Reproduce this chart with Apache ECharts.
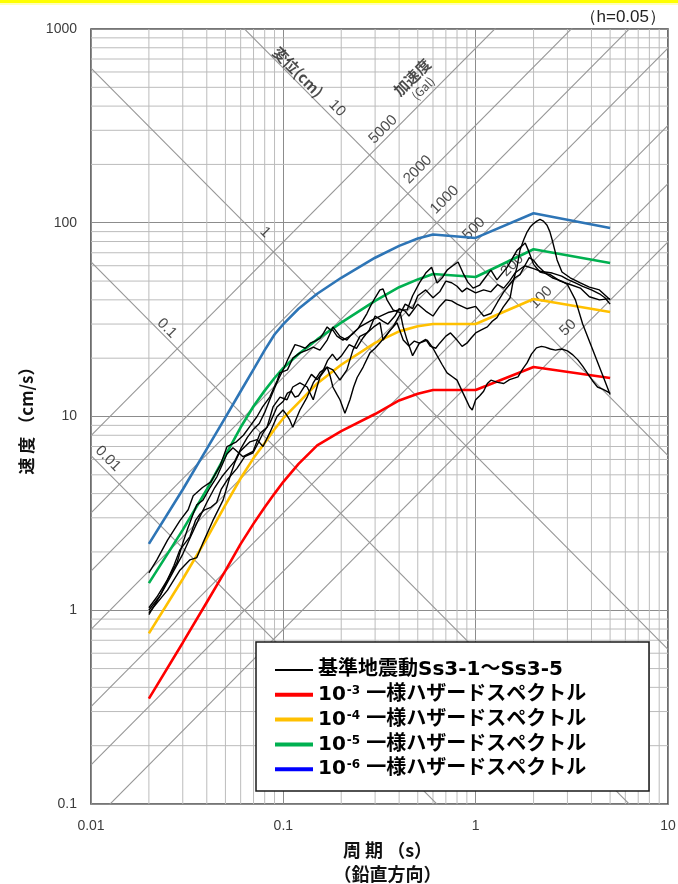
<!DOCTYPE html>
<html>
<head>
<meta charset="utf-8">
<script src="https://cdn.jsdelivr.net/npm/echarts@6/dist/echarts.min.js"></script>
<style>
html, body { margin: 0; padding: 0; background: #fff; overflow: hidden; }
#chart { width: 678px; height: 884px; }
</style>
</head>
<body>
<div id="chart"></div>
<script>
// ---- axis ranges and tick values -------------------------------------
const periodTicks = [0.01, 0.1, 1, 10];          // 周期 (s)
const velocityTicks = [0.1, 1, 10, 100, 1000];   // 速度 (cm/s)

// tripartite guide lines
const accelLines = [50, 100, 200, 500, 1000, 2000, 5000];  // 加速度 (Gal)
const dispLines = [0.01, 0.1, 1, 10];                       // 変位 (cm)

// ---- uniform hazard spectra ------------------------------------------
const hazardPeriods = [0.02, 0.03, 0.04, 0.05, 0.06, 0.07, 0.08, 0.09, 0.1, 0.12, 0.15, 0.2, 0.3, 0.4, 0.5, 0.6, 1.0, 2.0, 5.0];
const hazard1e3 = [0.35, 0.68, 1.1, 1.6, 2.2, 2.8, 3.4, 4.0, 4.6, 5.7, 7.1, 8.4, 10.3, 12.1, 13.1, 13.7, 13.7, 18.0, 15.8];
const hazard1e4 = [0.76, 1.45, 2.35, 3.5, 4.8, 6.1, 7.3, 8.6, 9.8, 11.8, 14.8, 18.5, 24.0, 27.5, 29.2, 30.0, 30.0, 40.4, 34.6];
const hazard1e5 = [1.38, 2.6, 4.2, 6.3, 8.8, 11.3, 13.6, 15.8, 17.8, 21.0, 25.0, 30.5, 39.5, 46.5, 51.0, 54.4, 52.5, 73.0, 62.0];
const hazard1e6 = [2.2, 4.2, 6.8, 9.9, 13.5, 17.5, 22.0, 26.5, 30.0, 36.0, 43.0, 52.0, 66.0, 76.0, 83.0, 87.0, 83.5, 112.0, 94.0];

// ---- design basis ground motions Ss3-1 .. Ss3-5, [period s, velocity cm/s]
const ss3_1 = [[0.02,1.56],[0.022,1.82],[0.025,2.3],[0.029,2.9],[0.032,3.3],[0.034,3.9],[0.038,4.3],[0.042,4.6],[0.047,5.6],[0.051,7.0],[0.057,7.4],[0.062,8.0],[0.067,8.9],[0.073,10],[0.078,11.2],[0.085,12.6],[0.093,15.4],[0.096,16.8],[0.105,17.4],[0.112,20],[0.122,21.3],[0.133,22],[0.143,22.8],[0.155,22],[0.169,24.8],[0.181,29],[0.197,25.9],[0.214,24.8],[0.23,27],[0.25,29],[0.29,31.5],[0.35,34.4],[0.4,35.5],[0.44,35.5],[0.47,42],[0.51,48.9],[0.55,55],[0.59,59],[0.63,48.9],[0.67,52],[0.71,57],[0.76,60],[0.81,62.7],[0.86,55],[0.91,49.4],[0.97,46],[1.05,47.7],[1.12,52],[1.2,57],[1.29,50.7],[1.46,59],[1.64,72],[1.81,78.6],[1.88,72],[2.0,61],[2.16,55.7],[2.44,54],[2.75,50],[3.1,48],[3.5,46],[3.9,41.5],[4.4,40],[5.0,40.6]];
const ss3_2 = [[0.02,0.97],[0.025,1.27],[0.029,1.61],[0.0327,1.82],[0.0355,1.87],[0.038,2.2],[0.043,2.9],[0.0486,3.7],[0.0528,4.9],[0.056,5.8],[0.0595,6.6],[0.0671,7.4],[0.073,7.6],[0.0784,7.0],[0.0853,8.3],[0.0927,10],[0.0996,10.8],[0.104,10.2],[0.108,9.6],[0.112,8.8],[0.117,9.8],[0.122,10.8],[0.133,12.6],[0.143,14.9],[0.155,16.9],[0.169,18],[0.175,16.2],[0.181,14.2],[0.19,13],[0.197,12.2],[0.209,10.4],[0.215,11.2],[0.222,12.2],[0.232,14.2],[0.242,15.9],[0.26,18],[0.282,21.3],[0.3,22.5],[0.318,24],[0.345,26.5],[0.372,29],[0.4,33],[0.43,38],[0.47,36],[0.5,42],[0.55,45],[0.6,41],[0.65,44],[0.7,50],[0.75,49],[0.8,47],[0.85,44],[0.9,46],[1.0,43.5],[1.1,45],[1.2,44],[1.3,48],[1.4,46],[1.5,50],[1.6,55],[1.8,60],[2.0,58],[2.2,56],[2.5,55],[2.8,53],[3.0,51],[3.3,49],[3.6,47],[4.0,45],[4.4,43],[4.7,41],[5.0,38]];
const ss3_3 = [[0.02,1.03],[0.022,1.17],[0.025,1.44],[0.028,1.76],[0.03,2.22],[0.032,2.68],[0.034,3.15],[0.0355,3.5],[0.0382,3.7],[0.0416,4.3],[0.0452,4.9],[0.0509,6.4],[0.0547,6.9],[0.0585,6.5],[0.0617,6.2],[0.0696,6.6],[0.0757,8.2],[0.0823,8.8],[0.0884,11.2],[0.0961,12.6],[0.1045,12.2],[0.112,14.2],[0.122,14.9],[0.133,14.2],[0.143,12.2],[0.155,16],[0.169,18],[0.181,17.4],[0.197,15.4],[0.214,17.4],[0.23,22],[0.25,25.9],[0.272,27],[0.295,29],[0.318,30.5],[0.33,24.8],[0.36,28],[0.39,30.5],[0.42,24.8],[0.45,23.1],[0.48,24.5],[0.51,23.9],[0.55,25],[0.58,23.1],[0.62,22.5],[0.65,23.9],[0.7,26],[0.74,27],[0.8,24.8],[0.85,23],[0.9,23.9],[0.95,25.5],[1.0,27],[1.07,28],[1.15,29],[1.22,31],[1.29,32.4],[1.39,36.7],[1.51,41],[1.56,48.9],[1.64,59],[1.7,72.3],[1.78,82],[1.85,89.5],[1.92,95],[2.0,99],[2.08,102],[2.16,104],[2.25,102],[2.35,97],[2.43,90],[2.5,81.5],[2.58,72],[2.65,64.3],[2.81,55.7],[3.1,52],[3.5,48.9],[3.9,46.5],[4.4,45],[5.0,40]];
const ss3_4 = [[0.02,1.0],[0.023,1.2],[0.026,1.5],[0.03,1.95],[0.033,2.4],[0.036,2.9],[0.04,3.6],[0.044,4.3],[0.048,4.9],[0.052,5.4],[0.056,5.9],[0.06,6.8],[0.065,7.8],[0.07,8.6],[0.075,9.2],[0.08,10.5],[0.085,12.2],[0.09,14],[0.095,15.8],[0.1,17.5],[0.105,19.5],[0.11,21.5],[0.115,23.5],[0.122,23.1],[0.13,22.5],[0.138,23.9],[0.146,24.5],[0.155,25.3],[0.162,27],[0.169,29],[0.175,28],[0.181,27.9],[0.19,26],[0.204,24.8],[0.215,25.5],[0.23,26.7],[0.245,28.5],[0.26,31.5],[0.272,34],[0.282,36.7],[0.3,41],[0.318,45],[0.33,45.5],[0.346,40],[0.372,35.5],[0.405,34.4],[0.42,29],[0.44,24.8],[0.47,20.6],[0.51,23.9],[0.56,24.8],[0.6,22.5],[0.63,20.6],[0.67,18.5],[0.71,16.8],[0.76,16],[0.8,15.4],[0.86,13.2],[0.9,12],[0.93,11.2],[0.96,10.8],[1.0,12.2],[1.05,12.8],[1.1,13.5],[1.15,14.8],[1.2,15.4],[1.3,15],[1.4,14.8],[1.5,15.5],[1.66,16],[1.75,17.5],[1.85,18.9],[1.95,21],[2.07,22.6],[2.2,23],[2.3,22.8],[2.45,22.3],[2.6,22],[2.8,22.3],[3.0,21.8],[3.2,20.8],[3.4,19.6],[3.6,18.2],[3.8,16.8],[4.05,15.3],[4.3,14.2],[4.6,13.8],[5.0,13.2]];
const ss3_5 = [[0.02,0.95],[0.023,1.2],[0.027,1.7],[0.029,2.05],[0.0327,2.4],[0.035,2.92],[0.037,3.15],[0.039,3.3],[0.042,3.4],[0.045,3.6],[0.0475,4.2],[0.051,4.7],[0.0574,5.4],[0.063,6.2],[0.0696,6.5],[0.074,7.3],[0.0784,8.2],[0.0853,9.3],[0.0927,11.2],[0.1,12],[0.105,13.2],[0.11,13.5],[0.115,12.6],[0.12,12.8],[0.13,14.5],[0.14,16.5],[0.15,15.5],[0.16,17],[0.17,19.5],[0.18,21],[0.19,19.5],[0.2,20.5],[0.22,23.5],[0.24,22.5],[0.26,25.5],[0.28,28],[0.3,33],[0.33,31],[0.35,30],[0.38,33],[0.4,36],[0.43,35],[0.45,33],[0.5,38],[0.55,35],[0.6,33],[0.65,37],[0.7,40],[0.75,39.5],[0.8,38],[0.9,36],[1.0,37],[1.1,33],[1.2,34],[1.3,39],[1.4,44],[1.5,48],[1.6,52],[1.7,54],[1.8,60],[1.9,66],[2.0,64],[2.1,60],[2.3,55],[2.5,52],[2.8,50],[3.0,48],[3.3,40],[3.6,30],[4.0,23],[4.5,17],[5.0,13]];

const groundMotions = [ss3_1, ss3_2, ss3_3, ss3_4, ss3_5];
const groundMotionName = '基準地震動Ss3-1～Ss3-5';
const hazardNames = ['10-3 一様ハザードスペクトル', '10-4 一様ハザードスペクトル', '10-5 一様ハザードスペクトル', '10-6 一様ハザードスペクトル'];
const hazardValues = [hazard1e3, hazard1e4, hazard1e5, hazard1e6];

// ---- styling --------------------------------------------------------
const hazardColors = ['#ff0000', '#ffc000', '#00b050', '#2e75b6'];
const hazardLegendColors = ['#ff0000', '#ffc000', '#00b050', '#0000ff'];
const minorGridColor = '#bcbcbc';
const majorGridColor = '#8c8c8c';
const guideColor = '#969696';

// where the guide-line captions sit: period on the line, upward pixel shift
const accelLabelLayout = { 50: [3.02, 15], 100: [2.19, 14], 200: [1.55, 17], 500: [0.98, 15], 1000: [0.69, 15], 2000: [0.50, 14], 5000: [0.33, 12] };
const dispLabelLayout = { 0.01: [0.01226, 14], 0.1: [0.0248, 10], 1: [0.0803, 11], 10: [0.1905, 14] };

const TWO_PI = 2 * Math.PI;
const velFromAccel = (gal, t) => gal * t / TWO_PI;
const velFromDisp = (cm, t) => TWO_PI * cm / t;

// label offsets are given in the rotated text frame: turn a screen-space
// upward shift into that frame (+45 deg text for accel, -45 deg for disp)
const S = Math.SQRT1_2;
const accelOffset = up => [up * S, -up * S];
const dispOffset = up => [-up * S, -up * S];

const xMin = periodTicks[0], xMax = periodTicks[periodTicks.length - 1];
const yMin = velocityTicks[0], yMax = velocityTicks[velocityTicks.length - 1];

const series = [];

// minor log grid (2..9 within each decade)
function minorValues(ticks) {
  const out = [];
  for (let i = 0; i < ticks.length - 1; i++) {
    for (let k = 2; k <= 9; k++) out.push(+(ticks[i] * k).toPrecision(6));
  }
  return out;
}
const guideBase = { type: 'line', silent: true, symbol: 'none', animation: false, z: 1, tooltip: { show: false } };
minorValues(periodTicks).forEach(t => {
  series.push(Object.assign({}, guideBase, { data: [[t, yMin], [t, yMax]], lineStyle: { color: minorGridColor, width: 1 } }));
});
minorValues(velocityTicks).forEach(v => {
  series.push(Object.assign({}, guideBase, { data: [[xMin, v], [xMax, v]], lineStyle: { color: minorGridColor, width: 1 } }));
});

// acceleration and displacement guide lines
accelLines.forEach(a => {
  series.push(Object.assign({}, guideBase, { z: 2, data: [[xMin, velFromAccel(a, xMin)], [xMax, velFromAccel(a, xMax)]], lineStyle: { color: guideColor, width: 1.1 } }));
});
dispLines.forEach(d => {
  series.push(Object.assign({}, guideBase, { z: 2, data: [[xMin, velFromDisp(d, xMin)], [xMax, velFromDisp(d, xMax)]], lineStyle: { color: guideColor, width: 1.1 } }));
});

// captions along the guide lines
const numFont = { fontFamily: 'Liberation Sans', fontSize: 15, color: '#1e1e1e' };
const captionData = [];
accelLines.forEach(a => {
  const [t, up] = accelLabelLayout[a];
  captionData.push({ value: [t, velFromAccel(a, t)], label: Object.assign({ formatter: String(a), rotate: 45, offset: accelOffset(up) }, numFont) });
});
dispLines.forEach(d => {
  const [t, up] = dispLabelLayout[d];
  captionData.push({ value: [t, velFromDisp(d, t)], label: Object.assign({ formatter: String(d), rotate: -45, offset: dispOffset(up) }, numFont) });
});
captionData.push({ value: [0.1192, velFromDisp(10, 0.1192)], label: { formatter: '変位(cm)', rotate: -45, offset: dispOffset(11), fontFamily: 'Noto Sans CJK JP', fontWeight: 'bold', fontSize: 15, color: '#1e1e1e' } });
captionData.push({ value: [0.4957, velFromAccel(5000, 0.4957)], label: { formatter: '{a|加速度}\n{b|(Gal)}', rotate: 45, offset: accelOffset(25), rich: { a: { fontFamily: 'Noto Sans CJK JP', fontWeight: 'bold', fontSize: 15, color: '#1e1e1e', lineHeight: 17 }, b: { fontFamily: 'Noto Sans CJK JP', fontSize: 12, color: '#1e1e1e', lineHeight: 14 } } } });
series.push({
  type: 'scatter', silent: true, animation: false, z: 3, symbolSize: 1,
  itemStyle: { color: 'rgba(0,0,0,0)' },
  label: { show: true, position: 'inside' },
  data: captionData
});

// uniform hazard spectra
hazardValues.forEach((vals, i) => {
  series.push({
    type: 'line', name: hazardNames[i], symbol: 'none', animation: false, z: 4,
    lineStyle: { color: hazardColors[i], width: 2.6 },
    itemStyle: { color: hazardColors[i] },
    data: hazardPeriods.map((t, j) => [t, vals[j]])
  });
});

// ground motion spectra
groundMotions.forEach(curve => {
  series.push({
    type: 'line', name: groundMotionName, symbol: 'none', animation: false, z: 5,
    lineStyle: { color: '#000', width: 1.4 },
    itemStyle: { color: '#000' },
    data: curve
  });
});

const tickLabel = v => String(+(+v).toPrecision(6));
const titleFont = { fontFamily: 'Noto Sans CJK JP', fontWeight: 'bold', fontSize: 18, color: '#111' };

const legendFont = "'DejaVu Sans', 'Noto Sans CJK JP', sans-serif";

const option = {
  backgroundColor: '#fff',
  animation: false,
  grid: {
    left: 91, top: 29, width: 577, height: 775,
    show: true, borderColor: '#4a4a4a', borderWidth: 1.6, backgroundColor: 'transparent',
    containLabel: false, outerBoundsMode: 'none'
  },
  xAxis: {
    type: 'log', logBase: 10, min: xMin, max: xMax,
    axisLine: { show: false }, axisTick: { show: false },
    axisLabel: { margin: 15, fontSize: 14, color: '#3c3c3c', fontFamily: 'Liberation Sans', formatter: tickLabel, showMinLabel: true, showMaxLabel: true },
    splitLine: { show: true, lineStyle: { color: majorGridColor, width: 1 } },
    name: '周 期 （s）\n（鉛直方向）', nameLocation: 'middle', nameGap: 34,
    nameTextStyle: Object.assign({ lineHeight: 24, padding: [0, 0, 0, 16] }, titleFont)
  },
  yAxis: {
    type: 'log', logBase: 10, min: yMin, max: yMax,
    axisLine: { show: false }, axisTick: { show: false },
    axisLabel: { margin: 14, fontSize: 14, color: '#3c3c3c', fontFamily: 'Liberation Sans', formatter: tickLabel, showMinLabel: true, showMaxLabel: true },
    splitLine: { show: true, lineStyle: { color: majorGridColor, width: 1 } },
    name: '速 度 （cm/s）', nameLocation: 'middle', nameGap: 54, nameRotate: 90,
    nameTextStyle: Object.assign({}, titleFont, { fontSize: 17 })
  },
  legend: {
    z: 10, selectedMode: false, orient: 'vertical',
    left: 275, top: 660, padding: 0, itemGap: 4.8,
    itemWidth: 38, itemHeight: 4,
    textStyle: {
      fontFamily: legendFont, fontWeight: 'bold', fontSize: 20, color: '#000', lineHeight: 20,
      rich: { sup: { fontFamily: legendFont, fontWeight: 'bold', fontSize: 12, color: '#000', lineHeight: 20, verticalAlign: 'top', padding: [0, 6, 0, 1] } }
    },
    formatter: name => name.replace(/^10(-\d) /, '10{sup|$1}'),
    data: [{ name: groundMotionName, icon: 'path://M0,0H38V2H0Z', itemStyle: { color: '#000', borderWidth: 0 } }]
      .concat(hazardNames.map((n, i) => ({ name: n, icon: 'rect', itemStyle: { color: hazardLegendColors[i], borderWidth: 0 } })))
  },
  graphic: [
    { type: 'rect', z: 100, shape: { x: 0, y: 0, width: 678, height: 3 }, style: { fill: '#ffff00' }, silent: true },
    { type: 'rect', z: 100, shape: { x: 0, y: 3, width: 678, height: 2 }, style: { fill: '#ffffb8' }, silent: true },
    { type: 'rect', z: 6, shape: { x: 256, y: 642, width: 393, height: 149 }, style: { fill: '#fff', stroke: '#1a1a1a', lineWidth: 1.5 }, silent: true },
    { type: 'text', z: 100, right: 12, top: 9, style: { text: '（h=0.05）', fontFamily: 'Liberation Sans', fontSize: 17, fill: '#222' }, silent: true }
  ],
  series: series
};

const chart = echarts.init(document.getElementById('chart'), null, { renderer: 'canvas' });
chart.setOption(option);
</script>
</body>
</html>
